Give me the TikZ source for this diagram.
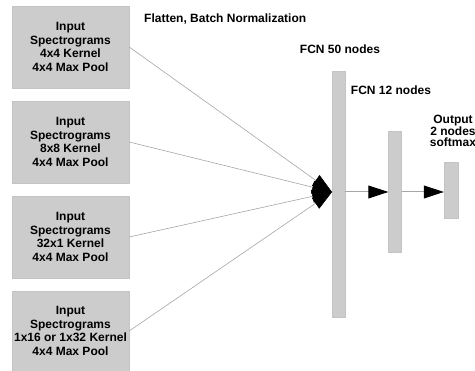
\documentclass[tikz,border=0pt]{standalone}
\usepackage{fontspec}
\setmainfont{Liberation Sans}
\usetikzlibrary{arrows.meta}
\definecolor{boxgray}{HTML}{CCCCCC}
\definecolor{boxedge}{HTML}{C4C4C4}
\definecolor{linegray}{HTML}{A6A6A6}
\begin{document}
\begin{tikzpicture}[x=1pt,y=-1pt,
  inbox/.style={draw=boxedge,fill=boxgray,minimum width=117pt,minimum height=82pt,inner sep=0pt,align=center,
    font=\fontsize{12}{13.8}\selectfont\bfseries},
  bar/.style={draw=boxedge,fill=boxgray,minimum width=13pt,inner sep=0pt},
  lbl/.style={inner sep=0pt,font=\fontsize{12}{11.8}\selectfont\bfseries,align=center},
  feed/.style={draw=linegray,line width=0.6pt,-{Triangle[length=20pt,width=13pt,color=black]}},
  link/.style={draw=linegray,line width=1pt,-{Triangle[length=20pt,width=13pt,color=black]}}]
\useasboundingbox (0,0) rectangle (475,371);
\node[inbox] (b1) at (70.5,47) {Input\\Spectrograms\\4x4 Kernel\\4x4 Max Pool};
\node[inbox] (b2) at (70.5,142) {Input\\Spectrograms\\8x8 Kernel\\4x4 Max Pool};
\node[inbox] (b3) at (70.5,237) {Input\\Spectrograms\\32x1 Kernel\\4x4 Max Pool};
\node[inbox,minimum height=80pt] (b4) at (70.5,331) {Input\\Spectrograms\\1x16 or 1x32 Kernel\\4x4 Max Pool};
\node[bar,minimum height=246pt] (f1) at (338.5,194) {};
\node[bar,minimum height=121pt] (f2) at (395,191.5) {};
\node[bar,minimum height=56pt,minimum width=14pt] (f3) at (451,190) {};
\coordinate (hub) at (332,192);
\node[lbl,anchor=west] (flat) at (144,19) {Flatten, Batch Normalization};
\node[lbl] (t50) at (340,49) {FCN 50 nodes};
\node[lbl] (t12) at (391,90) {FCN 12 nodes};
\node[lbl] (tout) at (453,131) {Output\\2 nodes\\softmax};
\draw[feed] (b1.east) -- (hub);
\draw[feed] (b2.east) -- (hub);
\draw[feed] (b3.east) -- (hub);
\draw[feed] (b4.east) -- (hub);
\draw[link] (f1.east |- hub) -- (f2.west |- hub);
\draw[link] (f2.east |- hub) -- (f3.west |- hub);
\end{tikzpicture}
\end{document}
